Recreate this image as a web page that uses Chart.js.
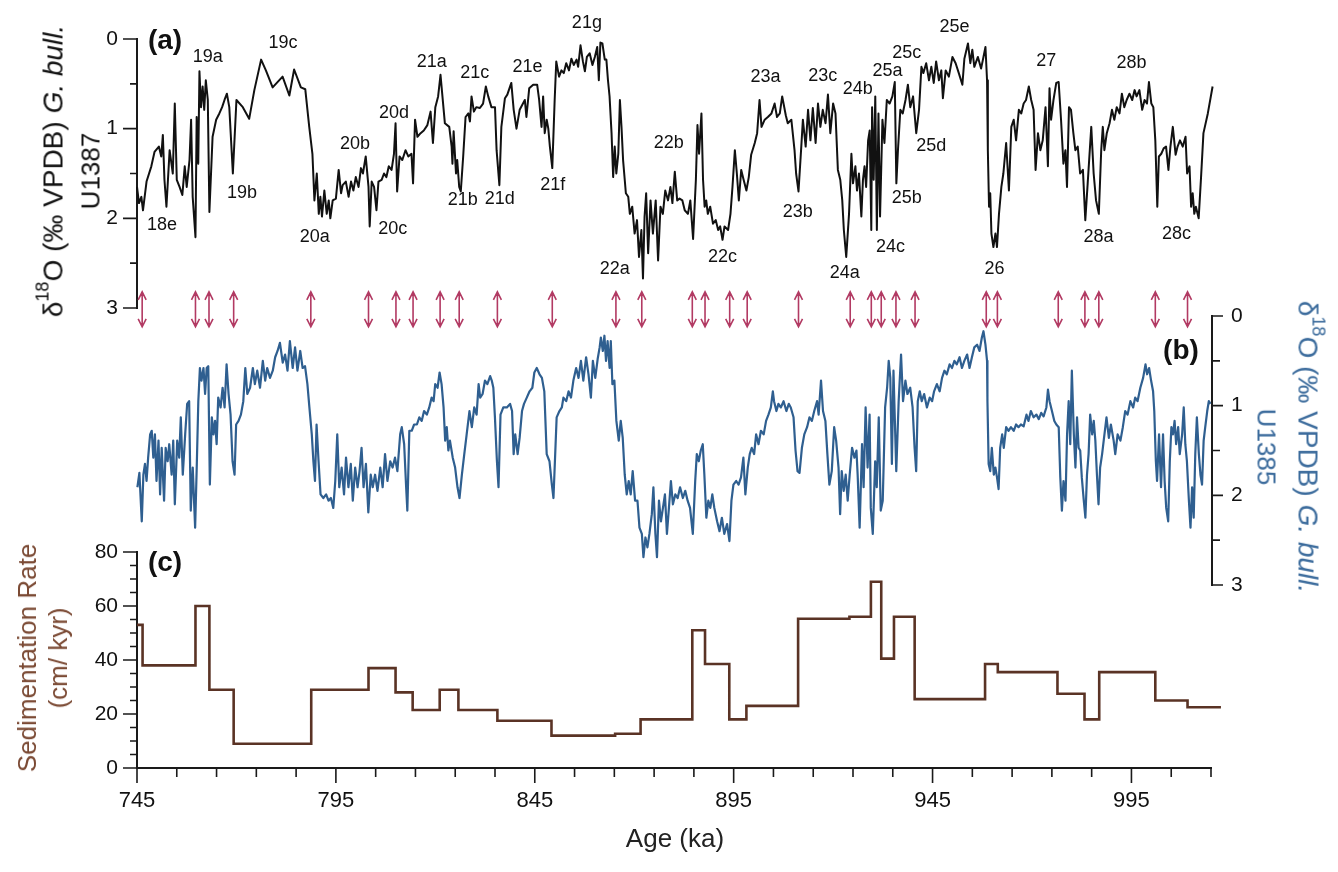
<!DOCTYPE html>
<html>
<head>
<meta charset="utf-8">
<title>U1387 / U1385 d18O and sedimentation rate</title>
<script src="https://cdn.jsdelivr.net/npm/chart.js@4.4.1/dist/chart.umd.min.js"></script>
<style>
  body { margin: 0; background: #fff; }
  #wrap { position: relative; width: 1338px; height: 872px; font-family: 'Liberation Sans', Arial, Helvetica, sans-serif; }
  canvas { position: absolute; left: 0; top: 0; }
  .lbl { position: absolute; white-space: nowrap; transform: translate(-50%, -50%); }
  .bold { font-weight: bold; font-size: 28px; color: #111; }
  .ytitle { position: absolute; white-space: nowrap; text-align: center; }
  .ytitle .l1 { font-size: 28px; }
  .ytitle .l2 { font-size: 26px; }
  .ytitle sup { font-size: 18px; vertical-align: 0; position: relative; top: -0.8em; }
</style>
</head>
<body>
<div id="wrap">
  <canvas id="chartC" width="1338" height="872"></canvas>
  <canvas id="chartB" width="1338" height="872"></canvas>
  <canvas id="chartA" width="1338" height="872"></canvas>

  <div class="lbl bold" style="left:165px;top:40px">(a)</div>
  <div class="lbl bold" style="left:1181px;top:350px">(b)</div>
  <div class="lbl bold" style="left:165px;top:562px">(c)</div>
  <div class="lbl" style="left:675px;top:838px;font-size:26px;color:#222">Age (ka)</div>

  <div class="ytitle" style="left:72px;top:171px;color:#111;line-height:34px;transform:translate(-50%,-50%) rotate(-90deg)">
    <div class="l1">δ<sup>18</sup>O (‰ VPDB) <i>G. bull.</i></div><div class="l2">U1387</div>
  </div>
  <div class="ytitle" style="left:1287px;top:447px;color:#3b6b9c;line-height:38px;transform:translate(-50%,-50%) rotate(90deg)">
    <div class="l1">δ<sup>18</sup>O (‰ VPDB) <i>G. bull.</i></div><div class="l2">U1385</div>
  </div>
  <div class="ytitle" style="left:43px;top:658px;color:#7b4a34;line-height:31px;transform:translate(-50%,-50%) rotate(-90deg)">
    <div class="l2">Sedimentation Rate</div><div class="l2">(cm/ kyr)</div>
  </div>
</div>

<script>
// (a) U1387 G. bulloides d18O, [age ka, permil]
const u1387 = [
  [745,1.65],[745.5,1.83],[746.1,1.76],[746.5,1.91],[747.4,1.59],[748.6,1.42],[749.4,1.26],[750.5,1.20],[751.1,1.31],[751.5,1.07],
  [751.9,1.57],[752.4,1.87],[753.2,1.24],[754,1.50],[754.5,0.72],[755,1.57],[755.7,1.65],[756.4,1.74],[757,1.42],[757.5,1.65],
  [758.2,1.35],[758.6,0.90],[759,1.76],[759.7,2.21],[760,0.87],[760.4,1.39],[760.7,0.36],[761.1,0.76],[761.5,0.53],[761.9,0.79],
  [762.3,0.46],[762.8,0.68],[763.2,1.93],[764,1.09],[764.9,0.90],[765.7,0.83],[766.4,0.76],[767,0.68],[767.6,0.61],[768.2,0.76],
  [769.1,1.50],[770,0.68],[771.6,0.76],[773.2,0.89],[774.5,0.57],[776.2,0.23],[777.4,0.35],[779.1,0.54],[781.6,0.42],[783.3,0.63],
  [784.5,0.34],[786.2,0.54],[787.3,0.56],[788.3,0.98],[789.1,1.28],[789.6,1.80],[790.2,1.50],[790.7,1.95],[791.1,1.76],[791.5,1.98],
  [792.1,1.69],[792.7,1.95],[793.2,1.80],[793.6,2.00],[794.2,1.80],[795,1.78],[795.7,1.46],[796.3,1.72],[796.7,1.63],[797.5,1.59],
  [798.2,1.76],[798.8,1.59],[799.4,1.69],[800,1.54],[800.7,1.65],[801.3,1.44],[801.8,1.50],[802.5,1.31],[803.2,1.65],[803.5,2.09],
  [804,1.59],[804.6,1.65],[805.2,1.91],[805.7,1.59],[806.5,1.57],[807.1,1.50],[807.7,1.54],[808.3,1.42],[809,1.46],[809.6,1.28],
  [810,0.94],[810.4,1.70],[811,1.31],[811.7,1.35],[812.5,1.24],[813.2,1.31],[814,1.28],[814.4,1.61],[814.9,0.90],[815.5,1.09],
  [816.3,1.05],[817.1,1.02],[818,0.96],[818.8,0.81],[819.4,1.16],[820,0.76],[820.7,0.64],[821.3,0.40],[822.4,0.94],[823.5,0.98],
  [824.1,1.20],[824.3,1.39],[824.6,1.03],[825.2,1.50],[825.5,1.35],[826,1.65],[826.4,1.70],[827,1.31],[827.6,0.87],[828.3,0.83],
  [828.7,0.92],[829.1,0.64],[829.7,0.81],[830.3,0.76],[831.2,0.77],[832,0.72],[832.7,0.53],[833.3,0.64],[834.1,0.76],[835,0.76],
  [835.4,1.24],[836.1,1.63],[836.6,0.98],[837.5,0.66],[838.1,0.62],[839.1,0.49],[839.7,0.79],[840.4,1.00],[841.2,0.79],[842.5,0.68],
  [842.9,0.87],[843.6,0.55],[844.6,0.51],[845.6,0.51],[846.1,0.68],[846.7,0.98],[847.1,0.64],[847.5,1.05],[848,0.90],[848.4,1.00],
  [848.8,1.20],[849.4,1.44],[850,0.68],[850.4,0.25],[851.1,0.42],[851.7,0.35],[852.3,0.38],[852.9,0.27],[853.6,0.35],[854.2,0.22],
  [854.8,0.29],[855.5,0.23],[855.9,0.31],[856.5,0.07],[857.1,0.25],[857.6,0.36],[858.1,0.20],[858.8,0.16],[859.5,0.29],[860.1,0.20],
  [860.7,0.09],[861.1,0.46],[861.5,0.04],[862,0.05],[862.6,0.23],[863,0.23],[863.4,0.46],[863.8,0.64],[864.3,1.05],[864.7,1.54],
  [865.1,1.20],[865.5,1.50],[866,1.28],[866.4,0.68],[866.8,0.98],[867.2,1.35],[867.9,1.72],[868.5,1.76],[868.9,1.95],[869.5,1.87],
  [870.1,2.17],[870.7,2.02],[871.2,2.43],[871.8,2.13],[872.2,2.67],[872.6,1.98],[873,1.72],[873.5,2.39],[874.1,1.80],[874.7,2.17],
  [875.4,1.80],[876,2.47],[876.6,1.87],[877.2,1.95],[877.8,1.69],[878.5,1.80],[879.1,1.65],[879.6,1.83],[880.2,1.48],[880.8,1.80],
  [881.4,1.78],[882.1,1.80],[882.7,1.91],[883.5,1.95],[884.1,1.80],[884.8,2.23],[885.5,1.57],[885.9,0.96],[886.3,1.28],[886.9,0.83],
  [887.3,1.57],[887.7,1.87],[888.1,1.80],[888.5,1.95],[889.1,1.87],[889.8,2.06],[890.5,2.02],[891.1,2.13],[891.6,2.09],[892.2,2.24],
  [892.7,2.09],[893.6,2.13],[894.2,1.95],[894.7,1.65],[895.3,1.24],[895.8,1.50],[896.3,1.80],[896.9,1.46],[897.5,1.57],[898.2,1.69],
  [898.8,1.54],[899.4,1.29],[900.3,1.16],[900.9,1.05],[901.5,0.68],[902,0.98],[902.8,0.90],[903.6,0.87],[904.5,0.83],[905.3,0.72],
  [905.9,0.87],[906.6,0.83],[907.2,0.64],[908.1,0.85],[908.6,0.94],[909.5,0.90],[910.3,1.24],[910.7,1.50],[911.3,1.70],[912,1.20],
  [912.4,0.90],[913.1,1.20],[913.7,0.79],[914.3,1.13],[914.9,0.77],[915.6,1.16],[916.2,0.72],[916.8,0.98],[917.4,0.79],[918.1,0.94],
  [918.7,0.62],[919.3,1.05],[920,0.72],[920.6,0.83],[921.2,1.46],[921.8,1.57],[922.3,1.80],[922.7,2.13],[923.3,2.43],[924,1.95],
  [924.6,1.28],[925,1.61],[925.6,1.42],[926,1.69],[926.5,1.50],[927.1,1.98],[927.5,1.57],[927.9,1.42],[928.3,1.65],[928.8,1.13],
  [929.2,1.02],[929.6,2.13],[929.8,0.76],[930.2,1.57],[930.6,0.64],[931,2.13],[931.4,0.83],[931.8,1.98],[932.4,0.90],[932.9,1.16],
  [933.5,0.68],[934.2,0.72],[934.9,0.64],[935.5,0.48],[935.9,1.61],[936.3,1.24],[936.9,0.79],[937.5,0.83],[938.2,0.68],[938.8,0.51],
  [939.4,0.76],[940.1,0.64],[940.9,1.05],[941.6,0.79],[942.2,0.31],[942.7,0.38],[943.4,0.27],[944.1,0.46],[944.7,0.31],[945.3,0.49],
  [945.9,0.25],[946.6,0.46],[947.2,0.35],[947.6,0.66],[948.3,0.35],[949.1,0.42],[950,0.20],[950.8,0.27],[951.6,0.38],[952.5,0.51],
  [953,0.22],[953.9,0.05],[954.5,0.27],[955,0.12],[955.5,0.31],[956.4,0.20],[957.2,0.33],[957.8,0.20],[958.3,0.09],[958.7,0.46],
  [958.9,1.24],[959.2,1.87],[959.5,1.72],[959.8,2.17],[960.3,2.32],[960.8,2.17],[961.2,2.32],[961.7,1.95],[962.3,1.65],[962.8,1.50],
  [963.5,1.16],[964.2,1.69],[964.8,0.98],[965.4,0.90],[966,1.13],[966.7,0.79],[967.3,0.83],[967.9,0.72],[968.5,0.68],[969.2,0.53],
  [969.8,0.68],[970.4,0.79],[970.9,1.46],[971.5,1.05],[972.1,1.24],[972.7,1.13],[973.4,0.76],[974,1.42],[974.4,0.55],[974.8,0.90],
  [975.4,0.68],[976.1,0.49],[976.7,0.48],[977.3,0.90],[977.9,1.39],[978.4,1.24],[978.8,1.65],[979.3,0.76],[979.8,0.79],[980.4,1.05],
  [980.9,1.24],[981.5,1.20],[982.1,1.50],[982.8,1.46],[983.4,2.02],[984,1.61],[984.9,0.98],[985.5,1.50],[986.1,1.80],[986.8,1.95],
  [987.4,1.24],[987.8,0.98],[988.2,1.24],[988.8,1.05],[989.5,0.94],[990.1,0.79],[990.7,0.90],[991.3,0.76],[992,0.83],[992.6,0.61],
  [993.2,0.76],[993.8,0.68],[994.5,0.61],[995.2,0.68],[995.8,0.57],[996.3,0.64],[997,0.57],[997.7,0.79],[998.3,0.68],[998.9,0.72],
  [999.4,0.48],[1000,0.72],[1000.5,0.76],[1001,1.13],[1001.5,1.87],[1001.9,1.31],[1002.5,1.28],[1003.1,1.22],[1003.7,1.20],[1004.3,1.46],
  [1004.8,1.20],[1005.4,0.98],[1006.1,1.29],[1006.6,1.20],[1007.2,1.13],[1007.9,1.20],[1008.6,1.09],[1009,1.50],[1009.6,1.42],[1010,1.87],
  [1010.4,1.72],[1010.8,1.95],[1011.2,1.87],[1011.9,2.00],[1012.5,1.54],[1013.1,1.05],[1014.2,0.83],[1015.4,0.53]
];

// (b) U1385 G. bulloides d18O, [age ka, permil]
const u1385 = [
  [745.1,1.91],[745.6,1.75],[746.2,2.29],[746.6,1.77],[747,1.65],[747.4,1.84],[747.8,1.58],[748.3,1.32],[748.7,1.28],[749.1,1.58],
  [749.5,1.32],[749.9,1.84],[750.4,1.39],[750.8,1.99],[751.2,1.47],[751.8,2.06],[752.2,1.47],[752.7,1.62],[753.1,1.43],[753.7,1.77],
  [754.1,1.39],[754.5,2.10],[755.1,1.39],[755.6,1.58],[756,1.13],[756.5,1.77],[757.1,1.32],[757.6,0.98],[758.1,0.95],[758.5,2.17],
  [759,1.69],[759.6,2.36],[760,1.69],[760.4,0.95],[760.8,0.58],[761.2,0.72],[761.7,0.58],[762.1,0.87],[762.5,0.58],[762.9,0.56],
  [763.3,1.88],[763.8,1.13],[764.2,1.32],[764.6,1.17],[765,1.43],[765.4,0.91],[766,1.02],[766.5,0.80],[767,1.02],[767.5,0.54],
  [768,0.87],[768.5,1.10],[769,1.62],[769.5,1.77],[769.9,1.21],[770.5,1.17],[771.1,1.10],[771.7,0.95],[772.2,0.58],[772.7,0.87],
  [773.4,0.80],[774.1,0.58],[774.6,0.76],[775.2,0.61],[775.9,0.80],[776.6,0.50],[777.2,0.72],[777.7,0.58],[778.4,0.69],[779.1,0.61],
  [779.7,0.46],[780.3,0.39],[780.9,0.30],[781.6,0.52],[782.2,0.43],[782.8,0.61],[783.4,0.28],[784.1,0.58],[784.7,0.35],[785.3,0.61],
  [786,0.39],[786.6,0.58],[787.2,0.56],[787.8,0.76],[788.3,1.02],[788.9,1.32],[789.3,1.62],[789.7,1.84],[790.1,1.21],[790.6,1.62],
  [791.1,1.99],[791.8,2.03],[792.5,1.99],[793.1,2.06],[793.7,2.03],[794.3,2.14],[794.8,1.84],[795.3,1.32],[795.8,1.91],[796.4,1.69],
  [797,1.99],[797.5,1.58],[798.1,1.91],[798.7,1.65],[799.2,2.06],[799.8,1.69],[800.4,1.91],[800.9,1.73],[801.4,1.47],[801.9,1.91],
  [802.5,1.65],[803.1,2.19],[803.7,1.77],[804.2,1.91],[804.8,1.77],[805.4,1.95],[806.1,1.69],[806.7,1.91],[807.3,1.54],[807.9,1.84],
  [808.6,1.62],[809.2,1.69],[809.8,1.58],[810.4,1.73],[811.1,1.32],[811.5,1.24],[812.1,1.43],[812.6,1.91],[812.9,2.17],[813.4,1.28],
  [814,1.28],[814.6,1.21],[815.3,1.21],[815.9,1.13],[816.5,1.17],[817.1,1.06],[817.8,1.10],[818.4,1.02],[819,0.91],[819.5,0.95],
  [819.9,0.76],[820.5,0.80],[821,0.63],[821.5,0.76],[822,1.02],[822.4,1.39],[822.8,1.24],[823.2,1.50],[823.6,1.39],[824.3,1.58],
  [824.9,1.69],[825.5,1.91],[826,2.03],[826.6,1.77],[827.2,1.54],[827.8,1.32],[828.5,1.06],[829.1,1.24],[829.7,1.02],[830.3,1.10],
  [830.8,0.76],[831.2,0.91],[831.8,0.87],[832.4,0.72],[833,0.76],[833.7,0.67],[834.1,0.72],[834.5,0.80],[834.9,1.13],[835.4,1.62],
  [835.8,1.91],[836.3,1.10],[837,1.02],[837.9,1.02],[838.7,0.98],[839.2,1.06],[839.6,1.54],[840,1.32],[840.6,1.54],[841.1,1.36],
  [841.7,1.06],[842.2,0.98],[842.9,0.91],[843.6,0.84],[844.3,0.80],[844.8,0.63],[845.4,0.58],[846.1,0.65],[846.7,0.69],[847.3,0.84],
  [847.9,1.54],[848.6,1.62],[849.2,1.88],[849.6,2.03],[850,1.58],[850.4,1.13],[851.1,1.06],[851.7,1.02],[852.1,0.91],[852.8,0.95],
  [853.4,0.84],[854,0.91],[854.6,0.72],[855.3,0.58],[855.9,0.69],[856.5,0.50],[857.1,0.72],[857.8,0.46],[858.4,0.65],[859,0.91],
  [859.5,0.50],[860.1,0.69],[860.7,0.48],[861.2,0.35],[861.5,0.24],[862,0.39],[862.4,0.22],[862.8,0.50],[863.2,0.28],[863.7,0.58],
  [864,0.28],[864.4,0.76],[864.9,0.72],[865.4,1.17],[866,1.39],[866.5,1.17],[867,1.36],[867.5,1.77],[868,1.99],[868.5,1.84],
  [869,1.99],[869.5,1.73],[870.1,2.06],[870.7,2.06],[871.2,2.36],[871.8,2.43],[872.2,2.69],[872.7,2.47],[873.2,2.58],[873.7,2.43],
  [874.3,2.21],[874.7,1.91],[875.2,2.43],[875.6,2.69],[876.1,2.06],[876.6,2.29],[877.1,2.14],[877.6,1.99],[878.1,2.43],[878.6,2.14],
  [879.1,1.84],[879.6,2.10],[880.2,1.99],[880.8,2.03],[881.4,1.91],[882.1,2.03],[882.7,1.95],[883.3,2.06],[883.9,2.14],[884.6,2.43],
  [885.2,1.84],[885.6,1.54],[886.1,1.62],[886.6,1.50],[887.1,1.43],[887.5,1.77],[888,2.25],[888.5,2.06],[889,2.14],[889.5,1.99],
  [890,2.14],[890.7,2.29],[891.3,2.40],[891.9,2.25],[892.5,2.43],[893.2,2.32],[893.8,2.51],[894.3,2.06],[894.8,1.88],[895.5,1.84],
  [896.1,1.88],[896.7,1.80],[897.3,1.58],[897.8,1.99],[898.4,1.69],[898.9,1.54],[899.4,1.47],[900,1.54],[900.5,1.32],[901.1,1.43],
  [901.7,1.28],[902.4,1.32],[903,1.17],[903.6,1.10],[904.2,1.02],[904.7,0.84],[905,0.95],[905.6,1.06],[906.1,0.98],[906.7,1.02],
  [907.4,0.95],[908.1,1.06],[908.7,0.98],[909.2,1.02],[909.9,1.13],[910.4,1.50],[910.9,1.73],[911.4,1.75],[912,1.47],[912.6,1.32],
  [913.3,1.24],[913.9,1.13],[914.5,1.17],[915.1,1.06],[915.8,0.95],[916.2,1.10],[916.8,0.72],[917.3,1.06],[917.9,1.17],[918.4,1.54],
  [918.9,1.88],[919.5,1.73],[920.1,1.24],[920.6,1.39],[921.2,1.69],[921.6,2.21],[922,1.73],[922.5,1.95],[923,1.77],[923.5,2.06],
  [924,1.77],[924.6,1.47],[925.2,1.58],[925.7,1.50],[926,1.77],[926.5,2.36],[927.1,1.43],[927.5,1.91],[928,1.02],[928.5,1.69],
  [929,1.10],[929.3,2.14],[929.8,2.43],[930.4,1.62],[930.8,1.91],[931.3,1.13],[931.8,2.17],[932.3,2.06],[932.9,1.02],[933.4,0.80],
  [933.8,0.50],[934.2,0.69],[934.6,1.65],[935,0.61],[935.7,1.73],[936.3,0.95],[936.9,0.43],[937.4,0.95],[938,0.72],[938.5,0.87],
  [939.2,0.80],[939.8,1.02],[940.3,1.47],[940.7,1.73],[941.1,0.95],[941.6,0.84],[942.1,0.95],[942.7,0.87],[943.4,1.02],[944.1,0.91],
  [944.7,0.95],[945.2,0.84],[945.9,0.76],[946.6,0.84],[947.2,0.69],[947.8,0.61],[948.4,0.65],[949.1,0.54],[949.7,0.58],[950.3,0.50],
  [950.9,0.54],[951.6,0.46],[952.2,0.58],[952.8,0.50],[953.5,0.43],[954.1,0.58],[954.7,0.46],[955.3,0.35],[956,0.32],[956.6,0.39],
  [957.2,0.24],[957.6,0.17],[958.1,0.32],[958.5,0.50],[958.6,0.95],[958.9,1.65],[959.3,1.73],[959.7,1.47],[960.2,1.77],[960.6,1.69],
  [961,1.80],[961.4,1.93],[961.8,1.47],[962.3,1.32],[962.7,1.47],[963.3,1.24],[963.9,1.28],[964.5,1.24],[965.2,1.28],[965.8,1.21],
  [966.4,1.24],[967,1.21],[967.7,1.23],[968.4,1.10],[968.9,1.17],[969.5,1.06],[970.2,1.13],[970.9,1.10],[971.5,1.15],[972.1,1.08],
  [972.7,1.12],[973.4,1.02],[973.8,0.82],[974.2,0.95],[974.8,1.06],[975.4,1.17],[975.9,1.21],[976.5,1.24],[976.9,1.80],[977.3,2.17],
  [977.7,1.84],[978.2,2.06],[978.6,1.32],[979,0.95],[979.4,1.43],[979.8,0.61],[980.3,1.32],[980.7,1.69],[981.1,1.13],[981.5,1.47],
  [981.9,1.50],[982.3,1.80],[982.8,2.06],[983.2,2.25],[983.6,1.77],[984,1.54],[984.4,1.10],[984.9,1.32],[985.3,1.17],[985.7,1.39],
  [986.1,1.77],[986.5,2.10],[986.9,1.69],[987.4,1.54],[987.8,1.39],[988.5,1.13],[989.1,1.36],[989.6,1.21],[990.3,1.39],[990.7,1.54],
  [991.3,1.32],[992,1.39],[992.6,1.24],[993.2,1.06],[993.8,1.10],[994.5,0.95],[995.2,1.02],[995.7,0.91],[996.3,0.95],[997,0.80],
  [997.7,0.69],[998.3,0.54],[998.7,0.65],[999.2,0.58],[999.7,0.72],[1000.2,0.84],[1000.5,1.06],[1000.9,1.62],[1001.2,1.84],[1001.7,1.32],
  [1002.2,1.91],[1002.7,1.32],[1003.1,1.84],[1003.5,2.14],[1004,2.29],[1004.4,1.62],[1004.8,1.24],[1005.2,1.32],[1005.6,1.17],[1006,1.43],
  [1006.5,1.24],[1006.9,1.54],[1007.5,1.32],[1007.9,1.02],[1008.3,1.43],[1008.7,1.62],[1009.2,2.06],[1009.6,2.36],[1010,1.91],[1010.4,2.25],
  [1010.8,1.54],[1011.2,1.13],[1011.7,1.54],[1012.1,1.77],[1012.5,1.88],[1012.9,1.39],[1013.3,1.24],[1013.8,1.06],[1014.2,0.95],[1014.6,0.98]
];

// (c) sedimentation rate, each rate holds from its age to the next one
const sedAge  = [745, 746.4, 759.7, 763.2, 769.3, 788.8, 803.2, 810, 814.3, 821.1, 825.8, 835.6, 849.2, 865.2, 871.6, 884.6, 887.8,
                 893.9, 898.2, 911.2, 924.1, 929.5, 932.1, 935.3, 940.5, 958.2, 961.4, 976.4, 983.2, 986.9, 1001, 1009.1, 1017.5];
const sedRate = [53, 38, 60, 29, 9, 29, 37, 28, 21.5, 29, 21.5, 17.5, 12, 12.7, 18, 51, 38.5,
                 18, 23, 55.3, 56, 69, 40.5, 56, 25.5, 38.5, 35.5, 27.5, 18, 35.5, 25, 22.5, 22.5];

// tie points (double arrows between the two records)
const tieAges = [746.3, 759.7, 763.1, 769.3, 788.7, 803.2, 810.1, 814.4, 821.2, 826, 835.6, 849.4, 865.4, 871.9, 884.6, 887.8,
                 894, 898.4, 911.3, 924.3, 929.6, 932.1, 935.8, 940.6, 958.5, 961.3, 976.6, 983.3, 986.8, 1001, 1009.1];
const arrowTop = 2.82;
const arrowBottom = 3.21;

// MIS sub-stage labels for panel (a)
const misNames  = ['18e', '19a', '19b', '19c', '20a', '20b', '20c', '20d', '21a', '21b', '21c', '21d', '21e', '21f', '21g',
                   '22a', '22b', '22c', '23a', '23b', '23c', '24a', '24b', '24c', '25a', '25b', '25c', '25d', '25e',
                   '26', '27', '28a', '28b', '28c'];
const misAges   = [751.3, 762.8, 771.4, 781.7, 789.7, 799.8, 809.3, 809.6, 819.1, 826.9, 829.9, 836.2, 843.2, 849.5, 858.1,
                   865.1, 878.7, 892.2, 903, 911.1, 917.4, 922.9, 926.2, 934.4, 933.7, 938.5, 938.5, 944.7, 950.5,
                   960.6, 973.6, 986.7, 995, 1006.3];
const misValues = [2.08, 0.20, 1.72, 0.04, 2.21, 1.17, 2.12, 0.83, 0.26, 1.80, 0.38, 1.79, 0.31, 1.63, -0.18,
                   2.56, 1.16, 2.43, 0.42, 1.93, 0.41, 2.61, 0.56, 2.32, 0.36, 1.77, 0.16, 1.19, -0.13,
                   2.56, 0.25, 2.21, 0.27, 2.17];

// tick values
const ageMajor  = [745, 795, 845, 895, 945, 995];
const ageMinor  = [755, 765, 775, 785, 805, 815, 825, 835, 855, 865, 875, 885, 905, 915, 925, 935, 955, 965, 975, 985, 1005, 1015];
const d18oMajor = [0, 1, 2, 3];
const d18oMinor = [0.5, 1.5, 2.5];
const sedMajor  = [0, 20, 40, 60, 80];
const sedMinor  = [5, 10, 15, 25, 30, 35, 45, 50, 55, 65, 70, 75];

const FONT = "'Liberation Sans', Arial, Helvetica, sans-serif";
const AXIS_COLOR = '#1a1a1a';

function toPoints(pairs) {
  return pairs.map(p => ({ x: p[0], y: p[1] }));
}

function setTicks(majors, minors) {
  return function (scale) {
    scale.ticks = majors.concat(minors).sort((a, b) => a - b).map(v => ({ value: v }));
  };
}

function labelMajors(majors) {
  return function (value) {
    return majors.includes(value) ? String(value) : '';
  };
}

// long marks on labelled ticks, short ones on the others
function tickMarks(axisId, majors, majorLen, minorLen) {
  return {
    id: 'ticks_' + axisId,
    afterDraw(chart) {
      const s = chart.scales[axisId];
      const ctx = chart.ctx;
      ctx.save();
      ctx.strokeStyle = AXIS_COLOR;
      ctx.lineWidth = 1.6;
      ctx.beginPath();
      s.ticks.forEach(t => {
        const len = majors.includes(t.value) ? majorLen : minorLen;
        const p = s.getPixelForValue(t.value);
        if (s.position === 'bottom') {
          ctx.moveTo(p, s.top); ctx.lineTo(p, s.top + len);
        } else if (s.position === 'left') {
          ctx.moveTo(s.right - len, p); ctx.lineTo(s.right, p);
        } else {
          ctx.moveTo(s.left, p); ctx.lineTo(s.left + len, p);
        }
      });
      ctx.stroke();
      ctx.restore();
    }
  };
}

const misLabels = {
  id: 'misLabels',
  afterDatasetsDraw(chart) {
    const { ctx, scales: { x, y } } = chart;
    ctx.save();
    ctx.font = '18px ' + FONT;
    ctx.fillStyle = '#111';
    ctx.textAlign = 'center';
    ctx.textBaseline = 'middle';
    misNames.forEach((n, i) => {
      ctx.fillText(n, x.getPixelForValue(misAges[i]), y.getPixelForValue(misValues[i]));
    });
    ctx.restore();
  }
};

const tieArrows = {
  id: 'tieArrows',
  afterDatasetsDraw(chart) {
    const { ctx, scales: { x, y } } = chart;
    const top = y.getPixelForValue(arrowTop);
    const bottom = y.getPixelForValue(arrowBottom);
    ctx.save();
    ctx.strokeStyle = '#b23a63';
    ctx.lineWidth = 1.6;
    ctx.beginPath();
    tieAges.forEach(a => {
      const px = x.getPixelForValue(a);
      ctx.moveTo(px, top); ctx.lineTo(px, bottom);
      ctx.moveTo(px - 4, top + 8); ctx.lineTo(px, top); ctx.lineTo(px + 4, top + 8);
      ctx.moveTo(px - 4, bottom - 8); ctx.lineTo(px, bottom); ctx.lineTo(px + 4, bottom - 8);
    });
    ctx.stroke();
    ctx.restore();
  }
};

const baseOptions = {
  responsive: false,
  animation: false,
  events: [],
  plugins: { legend: { display: false }, tooltip: { enabled: false } }
};

function d18oAxis(position) {
  const left = position === 'left';
  return {
    position: position,
    reverse: true,
    min: 0,
    max: 3,
    afterFit: s => { s.width = 60; },
    afterBuildTicks: setTicks(d18oMajor, d18oMinor),
    grid: { display: false, tickLength: left ? 14 : 11 },
    border: { display: true, color: AXIS_COLOR, width: 2 },
    ticks: { autoSkip: false, padding: left ? 5 : 8, color: '#111',
             font: { family: FONT, size: 21 }, callback: labelMajors(d18oMajor) }
  };
}

// panel (a)
new Chart(document.getElementById('chartA'), {
  type: 'line',
  data: {
    datasets: [{
      data: toPoints(u1387),
      borderColor: '#111111',
      borderWidth: 2,
      borderJoinStyle: 'round',
      pointRadius: 0,
      clip: false
    }]
  },
  options: Object.assign({}, baseOptions, {
    layout: { padding: { left: 77, right: 127, top: 39, bottom: 564 } },
    scales: {
      x: { type: 'linear', min: 745, max: 1015, display: false },
      y: d18oAxis('left')
    }
  }),
  plugins: [tickMarks('y', d18oMajor, 14, 7), misLabels, tieArrows]
});

// panel (b)
new Chart(document.getElementById('chartB'), {
  type: 'line',
  data: {
    datasets: [{
      data: toPoints(u1385),
      borderColor: '#2f5f90',
      borderWidth: 2.2,
      borderJoinStyle: 'round',
      pointRadius: 0,
      clip: false
    }]
  },
  options: Object.assign({}, baseOptions, {
    layout: { padding: { left: 137, right: 66, top: 316, bottom: 287 } },
    scales: {
      x: { type: 'linear', min: 745, max: 1015, display: false },
      y: d18oAxis('right')
    }
  }),
  plugins: [tickMarks('y', d18oMajor, 11, 8)]
});

// panel (c)
new Chart(document.getElementById('chartC'), {
  type: 'line',
  data: {
    datasets: [{
      data: sedAge.map((a, i) => ({ x: a, y: sedRate[i] })),
      stepped: true,
      borderColor: '#5a3325',
      borderWidth: 2.6,
      pointRadius: 0,
      clip: false
    }]
  },
  options: Object.assign({}, baseOptions, {
    layout: { padding: { left: 77, right: 127, top: 552, bottom: 24 } },
    scales: {
      x: {
        type: 'linear', position: 'bottom', min: 745, max: 1015,
        afterFit: s => { s.height = 80; },
        afterBuildTicks: setTicks(ageMajor, ageMinor),
        grid: { display: false, tickLength: 15 },
        border: { display: true, color: AXIS_COLOR, width: 2 },
        ticks: { autoSkip: false, maxRotation: 0, padding: 5, color: '#111',
                 font: { family: FONT, size: 22 }, callback: labelMajors(ageMajor) }
      },
      y: {
        position: 'left', min: 0, max: 80,
        afterFit: s => { s.width = 60; },
        afterBuildTicks: setTicks(sedMajor, sedMinor),
        grid: { display: false, tickLength: 14 },
        border: { display: true, color: AXIS_COLOR, width: 2 },
        ticks: { autoSkip: false, padding: 5, color: '#111',
                 font: { family: FONT, size: 21 }, callback: labelMajors(sedMajor) }
      }
    }
  }),
  plugins: [tickMarks('x', ageMajor, 15, 9), tickMarks('y', sedMajor, 14, 7)]
});
</script>
</body>
</html>
